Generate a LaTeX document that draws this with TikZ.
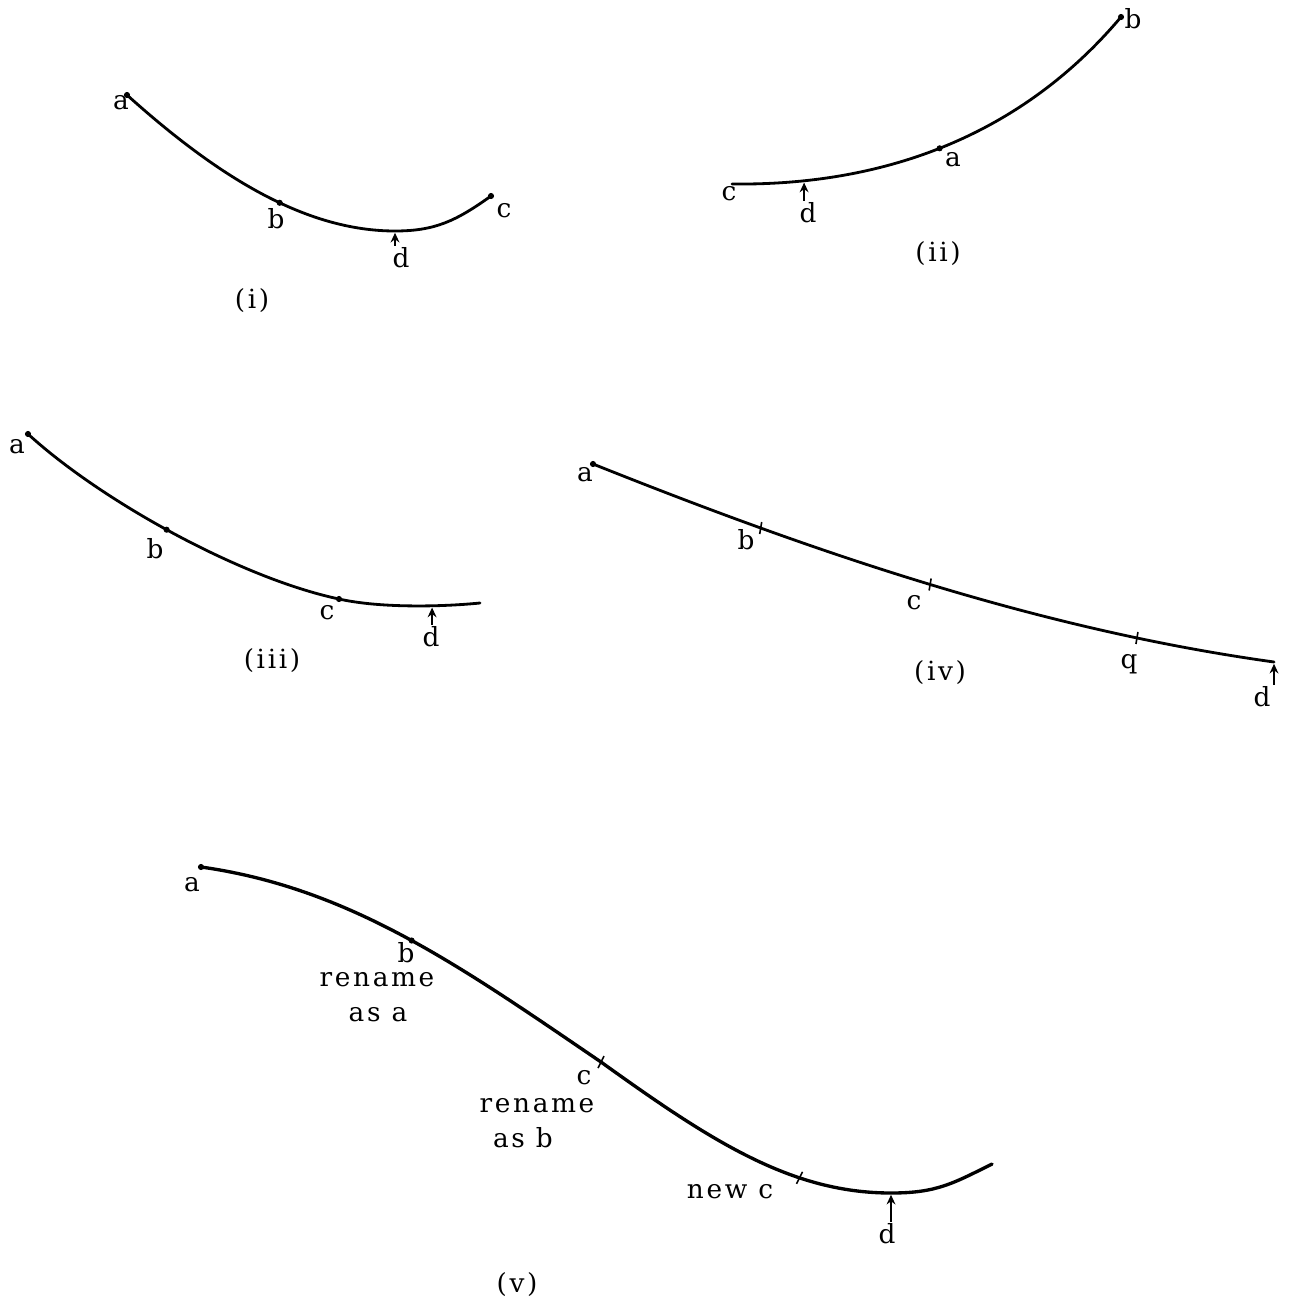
\documentclass[tikz,border=0pt]{standalone}
\usepackage{fontspec}
\newfontfamily\lblfont[LetterSpace=10]{DejaVu Serif}
\usetikzlibrary{arrows.meta}

\tikzset{
  curve/.style={line width=1.6pt, line cap=round},
  dot/.style={circle, fill, inner sep=0pt, minimum size=3.5pt},
  tickmark/.style={line width=0.9pt},
  lbl/.style={inner sep=1pt, font=\lblfont\fontsize{15}{18}\selectfont},
  darrow/.style={-{Stealth[length=5.5pt,width=5pt]}, line width=1.1pt, shorten >=1pt},
}

\begin{document}
\begin{tikzpicture}[x=0.02cm, y=-0.02cm]
  \useasboundingbox (0,0) rectangle (1290,1304);

  % (i)
  \coordinate (i-a) at (127,95);
  \coordinate (i-d) at (395,231);
  \coordinate (i-c) at (491,196);
  \draw[curve] (i-a) .. controls (217,176) and (305,231) .. coordinate[pos=0.57] (i-b) (i-d)
                     .. controls (435,231) and (456,221) .. (i-c);
  \foreach \p in {i-a,i-b,i-c} \node[dot] at (\p) {};
  \node[lbl] (i-la) at (121,103) {a};
  \node[lbl] (i-lb) at (276,219) {b};
  \node[lbl] (i-lc) at (504,211) {c};
  \node[lbl] (i-ld) at (401,258) {d};
  \node[lbl] (i-cap) at (252,301) {(i)};
  \draw[darrow] (i-ld.north -| i-d) -- (i-d);

  % (ii)
  \coordinate (ii-c) at (732,184);
  \coordinate (ii-b) at (1121,17);
  \draw[curve] (ii-c) .. controls (900,186) and (1030,125) .. coordinate[pos=0.148] (ii-d)
                       coordinate[pos=0.46] (ii-a) (ii-b);
  \foreach \p in {ii-a,ii-b} \node[dot] at (\p) {};
  \node[lbl] (ii-lc) at (729,194) {c};
  \node[lbl] (ii-ld) at (808,213) {d};
  \node[lbl] (ii-la) at (953,160) {a};
  \node[lbl] (ii-lb) at (1133,19) {b};
  \node[lbl] (ii-cap) at (938,254) {(ii)};
  \draw[darrow] (ii-ld.north -| ii-d) -- (ii-d);

  % (iii)
  \coordinate (iii-a) at (28,434);
  \coordinate (iii-c) at (339,599);
  \coordinate (iii-e) at (480,603);
  \draw[curve] (iii-a) .. controls (100,500) and (240,578) .. coordinate[pos=0.48] (iii-b) (iii-c)
                        .. controls (379,608) and (440,607) .. coordinate[pos=0.65] (iii-d) (iii-e);
  \foreach \p in {iii-a,iii-b,iii-c} \node[dot] at (\p) {};
  \node[lbl] (iii-la) at (17,447) {a};
  \node[lbl] (iii-lb) at (155,549) {b};
  \node[lbl] (iii-lc) at (327,613) {c};
  \node[lbl] (iii-ld) at (431,637) {d};
  \node[lbl] (iii-cap) at (272,661) {(iii)};
  \draw[darrow] (iii-ld.north -| iii-d) -- (iii-d);

  % (iv)
  \coordinate (iv-a) at (593,464);
  \coordinate (iv-d) at (1274,662);
  \draw[curve] (iv-a) .. controls (823,556) and (1044,630) .. coordinate[pos=0.245] (iv-b)
                       coordinate[pos=0.495] (iv-c) coordinate[pos=0.8] (iv-q) (iv-d);
  \node[dot] at (iv-a) {};
  \foreach \p in {iv-b,iv-c,iv-q} \draw[tickmark] (\p) ++(1,-6) -- ++(-2,12);
  \node[lbl] (iv-la) at (585,475) {a};
  \node[lbl] (iv-lb) at (746,540) {b};
  \node[lbl] (iv-lc) at (914,603) {c};
  \node[lbl] (iv-lq) at (1129,664) {q};
  \node[lbl] (iv-ld) at (1262,697) {d};
  \node[lbl] (iv-cap) at (940,673) {(iv)};
  \draw[darrow] (iv-ld.north -| iv-d) -- (iv-d);

  % (v)
  \coordinate (v-a) at (201,867);
  \coordinate (v-c) at (601,1062);
  \coordinate (v-d) at (891,1193);
  \coordinate (v-e) at (992,1164);
  \draw[curve, line width=1.9pt] (v-a) .. controls (350,888) and (460,966) .. coordinate[pos=0.52] (v-b) (v-c)
      .. controls (711,1141) and (791,1193) .. coordinate[pos=0.68] (v-nc) (v-d)
      .. controls (936,1193) and (952,1184) .. (v-e);
  \foreach \p in {v-a,v-b} \node[dot] at (\p) {};
  \foreach \p in {v-c,v-nc} \draw[tickmark] (\p) ++(3,-6) -- ++(-6,12);
  \node[lbl] (v-la) at (192,885) {a};
  \node[lbl] (v-lb) at (406,953) {b};
  \node[lbl] (v-ren1) at (377,980) {rename};
  \node[lbl] (v-as1) at (378,1015) {as a};
  \node[lbl] (v-lc) at (584,1078) {c};
  \node[lbl] (v-ren2) at (537,1106) {rename};
  \node[lbl] (v-as2) at (523,1138) {as b};
  \node[lbl] (v-new) at (730,1192) {new c};
  \node[lbl] (v-ld) at (887,1234) {d};
  \node[lbl] (v-cap) at (517,1285) {(v)};
  \draw[darrow] (v-ld.north -| v-d) -- (v-d);
\end{tikzpicture}
\end{document}
